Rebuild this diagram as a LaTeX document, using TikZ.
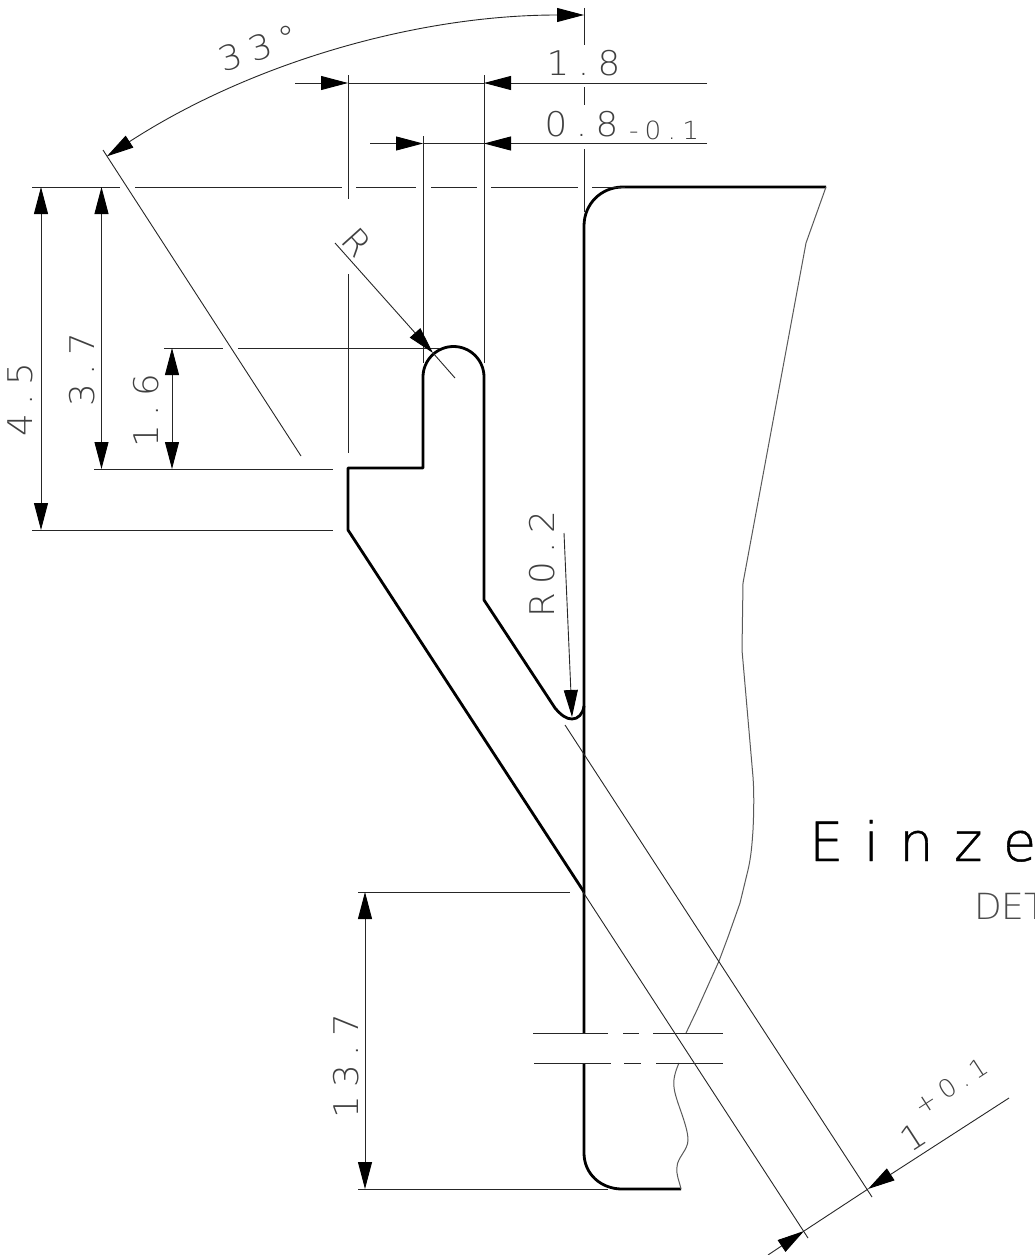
\documentclass[tikz,border=0pt]{standalone}
\usepackage{fontspec}
\usetikzlibrary{arrows.meta}
\newfontfamily\cadfont[LetterSpace=25,FakeStretch=1.05]{DejaVu Sans ExtraLight}
\newfontfamily\cadbold[LetterSpace=38,FakeBold=0.8]{DejaVu Sans ExtraLight}
\newfontfamily\cadplain{DejaVu Sans ExtraLight}
\tikzset{
  cadtip/.tip={Triangle[length=27pt,width=14pt,color=black,fill=black]},
  thin line/.style={line width=0.9pt,draw=black!85},
  thick line/.style={line width=2.8pt,draw=black,line join=round},
  contour/.style={line width=1pt,draw=black!65,line join=round},
  dimarrow/.style={thin line,-cadtip},
  dimboth/.style={thin line,cadtip-cadtip},
  cad/.style={font=\cadfont\fontsize{34}{36}\selectfont,inner sep=0pt,text=black!75},
  cadsmall/.style={font=\cadfont\fontsize{25}{27}\selectfont,inner sep=0pt,text=black!75},
}
\begin{document}
\begin{tikzpicture}[x=1pt,y=-1pt]
\clip (0,0) rectangle (1035,1255);
\fill[white] (0,0) rectangle (1035,1255);
\useasboundingbox (0,0) rectangle (1035,1255);

% thick outline
\draw[thick line] (826,187) -- (623,187) .. controls (601,187) and (584,204) .. (584,226) -- (584,1033);
\draw[thick line] (584,1063) -- (584,1153) .. controls (584,1174) and (601,1189) .. (622,1189) -- (681,1189);
\draw[thick line] (584,706) .. controls (583,714) and (578,719) .. (572,719)
  .. controls (566,719) and (561,715) .. (555,708) -- (484,600) -- (484,377)
  arc[start angle=360,end angle=180,radius=30.5] -- (423,468) -- (348,468) -- (348,530) -- (584,892);

% thin contour at the right
\draw[contour] (826,187) -- (806,243) -- (743,583) -- (742,650) -- (753,777)
  .. controls (754,790) and (754,810) .. (753,830)
  .. controls (752,845) and (751,857) .. (748,870) -- (740,903) -- (728,937) -- (719,961) -- (697,1010) -- (686,1033);
\draw[contour] (679,1063) .. controls (675,1072) and (673,1080) .. (674,1087)
  .. controls (675,1100) and (688,1125) .. (688,1140) .. controls (688,1150) and (677,1158) .. (677,1167)
  .. controls (676,1175) and (679,1180) .. (681,1189);

% break lines
\draw[thin line] (533,1033) -- (608,1033) (623,1033) -- (639,1033) (653,1033) -- (723,1033);
\draw[thin line] (534,1063) -- (611,1063) (624,1063) -- (641,1063) (656,1063) -- (723,1063);

% extension lines
\draw[thin line] (32,187) -- (120,187) (135,187) -- (342,187) (356,187) -- (416,187)
  (431,187) -- (477,187) (491,187) -- (578,187) (592,187) -- (625,187);
\draw[thin line] (164,348) -- (223,348) (238,348) -- (440,348);
\draw[thin line] (94,469) -- (333,469);
\draw[thin line] (32,530) -- (333,530);
\draw[thin line] (358,892) -- (570,892);
\draw[thin line] (358,1189) -- (608,1189);
\draw[thin line] (348,75) -- (348,199) (348,274) -- (348,453);
\draw[thin line] (423,136) -- (423,363);
\draw[thin line] (484,75) -- (484,363);
\draw[thin line] (584,8) -- (584,45) (584,87) -- (584,105) (584,149) -- (584,212);
\draw[thin line] (103,150) -- (301,456);
\draw[thin line] (565,725) -- (872,1197);
\draw[thin line] (583,892) -- (808,1238);

% dimensions
\draw[dimarrow] (295,83) -- (348,83);
\draw[dimarrow] (707,83) -- (484,83);
\draw[thin line] (348,83) -- (484,83);
\draw[dimarrow] (370,143.5) -- (423,143.5);
\draw[dimarrow] (707,143.5) -- (484,143.5);
\draw[thin line] (423,143.5) -- (484,143.5);
\draw[dimboth] (41,187) -- (41,530);
\draw[dimboth] (101.5,187) -- (101.5,469);
\draw[dimboth] (172,348) -- (172,469);
\draw[dimboth] (365,892) -- (365,1189);
\draw[thin line,cadtip-cadtip]
  (584,15) arc[start angle=-90,end angle=-123,radius=876];
\draw[dimarrow] (335,243) -- (433,353);
\draw[thin line] (433,353) -- (455,378);
\draw[dimarrow] (564,533) -- (572,717);
\draw[dimarrow] (1009,1098) -- (868,1189);
\draw[dimarrow] (768,1255) -- (804,1231);
\draw[thin line] (868,1189) -- (804,1231);

% texts
\node[cad] (t18) at (583.5,63) {1.8};
\node[cad] (t08) at (581.5,124) {0.8};
\node[cadsmall] (t01) at (664,130) {-0.1};
\node[cad,rotate=90] (t45) at (20,400) {4.5};
\node[cad,rotate=90] (t37) at (82,370) {3.7};
\node[cad,rotate=90] (t16) at (146,411) {1.6};
\node[cad,rotate=90] (t137) at (346,1066) {13.7};
\node[cad,rotate=90] (tr02) at (542,564) {R0.2};
\node[cad,rotate=18] (t33) at (258,48) {33°};
\node[cad,rotate=-48] (tr) at (357,242) {R};
\node[cad,rotate=33] (t1) at (913,1137) {1};
\node[cadsmall,rotate=33] (tp01) at (951,1086) {+0.1};
\node[font=\cadbold\fontsize{54}{56}\selectfont,inner sep=0pt,text=black,anchor=base west] (ein) at (809,861) {Einze};
\node[font=\cadplain\fontsize{36}{40}\selectfont,inner sep=0pt,anchor=base west,text=black!70] (det) at (974,919) {DET};
\end{tikzpicture}
\end{document}
